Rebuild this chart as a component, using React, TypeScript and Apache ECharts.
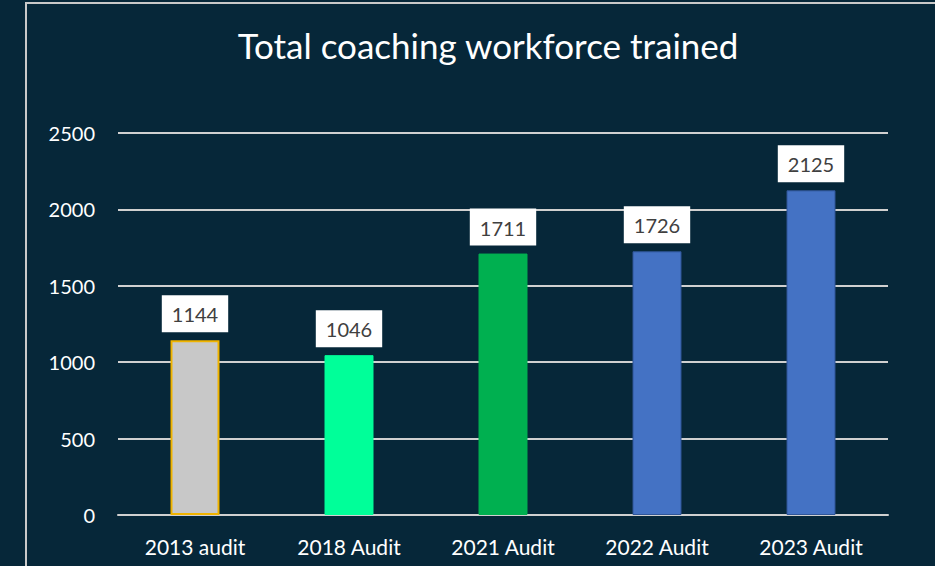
import React, { useEffect, useRef } from "react";
import * as echarts from "echarts";

const categories = ["2013 audit", "2018 Audit", "2021 Audit", "2022 Audit", "2023 Audit"];
const values = [1144, 1046, 1711, 1726, 2125];
const barColors = ["#c8c8c8", "#00ff99", "#00b050", "#4472c4", "#4472c4"];
const barBorders = ["#f0b400", "#00ff99", "#00b050", "#2f5597", "#2f5597"];
const titleText = "Total coaching workforce trained";

const FONT = "Lato, 'Open Sans', sans-serif";

export default function App() {
  const ref = useRef<HTMLDivElement>(null);
  useEffect(() => {
    document.body.style.margin = "0";
    const chart = echarts.init(ref.current!, null, { renderer: "svg" });
    chart.setOption({
      animation: false,
      backgroundColor: "#062739",
      title: {
        text: titleText,
        left: 483,
        top: 22,
        textAlign: "center",
        textStyle: { color: "#ffffff", fontSize: 35, fontWeight: "normal", fontFamily: FONT },
      },
      graphic: [
        {
          type: "rect",
          shape: { x: 26, y: 3, width: 960, height: 620 },
          style: { fill: "none", stroke: "#c9c9c9", lineWidth: 2 },
          silent: true,
        },
      ],
      grid: { left: 118, right: 47, top: 133, bottom: 51 },
      xAxis: {
        type: "category",
        data: categories,
        axisLine: { show: true, lineStyle: { color: "#d0d0d0", width: 2 } },
        axisTick: { show: false },
        axisLabel: { color: "#ffffff", fontSize: 21, margin: 21, fontFamily: FONT },
      },
      yAxis: {
        type: "value",
        min: 0,
        max: 2500,
        interval: 500,
        axisLine: { show: false },
        axisTick: { show: false },
        splitLine: { lineStyle: { color: "#d0d0d0", width: 2 } },
        axisLabel: {
          color: "#ffffff",
          fontSize: 20,
          margin: 23,
          fontFamily: FONT,
          formatter: (v: number) => String(v),
        },
      },
      series: [
        {
          type: "bar",
          barWidth: 49,
          data: values.map((v, i) => ({
            value: v,
            itemStyle: {
              color: barColors[i],
              borderColor: barBorders[i],
              borderWidth: i === 0 ? 2 : 1,
            },
          })),
          label: {
            show: true,
            position: "top",
            distance: 8,
            backgroundColor: "#ffffff",
            padding: [9, 10, 8, 10],
            color: "#404040",
            fontSize: 20,
            fontFamily: FONT,
          },
        },
      ],
    });
    return () => chart.dispose();
  }, []);
  return <div ref={ref} style={{ position: "absolute", left: 0, top: 0, width: 935, height: 566 }} />;
}
